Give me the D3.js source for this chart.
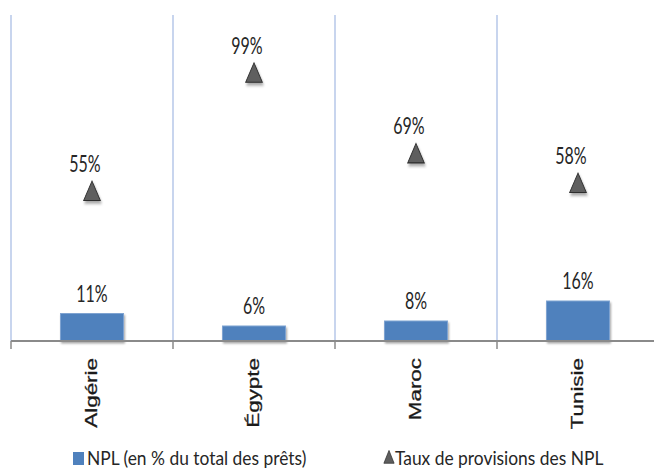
<!DOCTYPE html>
<html><head><meta charset="utf-8">
<script src="https://cdn.jsdelivr.net/npm/d3@7"></script>
<style>body{margin:0;background:#fff}svg{display:block}</style>
</head><body>
<svg id="c" width="654" height="469"></svg>
<script>
const categories = ["Algérie", "Égypte", "Maroc", "Tunisie"];
const nplValues = [11, 6, 8, 16];
const provisionValues = [55, 99, 69, 58];
const seriesNames = ["NPL (en % du total des prêts)", "Taux de provisions des NPL"];

const svg = d3.select("#c");
const baseY = 341;
const x = d3.scaleBand().domain(categories).range([11, 659]).paddingInner(0).paddingOuter(0);
const yBar = d3.scaleLinear().domain([0, 100]).range([baseY, 91]);
const yTri = d3.scaleLinear().domain([0, 100]).range([baseY, 72]);
const SY = 1.4;

const defs = svg.append("defs");
const f = defs.append("filter").attr("id", "sh").attr("x", "-30%").attr("y", "-30%").attr("width", "160%").attr("height", "160%");
f.append("feDropShadow").attr("dx", 1).attr("dy", 2).attr("stdDeviation", 1.2).attr("flood-color", "#000").attr("flood-opacity", 0.35);

// vertical gridlines at category boundaries
const bounds = categories.map(c => x(c));
svg.append("g").selectAll("line").data(bounds).join("line")
  .attr("x1", d => d).attr("x2", d => d).attr("y1", 15).attr("y2", baseY)
  .attr("stroke", "#c8d5ee").attr("stroke-width", 2);

// bars
const bw = 63;
svg.append("g").selectAll("rect").data(categories).join("rect")
  .attr("x", (d) => x(d) + x.bandwidth() / 2 - bw / 2)
  .attr("y", (d, i) => yBar(nplValues[i]))
  .attr("width", bw)
  .attr("height", (d, i) => baseY - yBar(nplValues[i]))
  .attr("fill", "#4f81bd").attr("stroke", "#7fa3d1").attr("stroke-width", 1)
  .attr("filter", "url(#sh)");

// axis
const axis = d3.axisBottom(x).tickSize(0).tickFormat("");
const ga = svg.append("g").attr("transform", `translate(0,${baseY})`).call(axis);
ga.select(".domain").remove();
ga.append("line").attr("x1", 11).attr("x2", 654).attr("y1", 0).attr("y2", 0).attr("stroke", "#8a8a8a").attr("stroke-width", 2);
ga.selectAll(".tk").data(bounds).join("line").attr("class", "tk")
  .attr("x1", d => d).attr("x2", d => d).attr("y1", 0).attr("y2", 8)
  .attr("stroke", "#8a8a8a").attr("stroke-width", 1.5);

// category labels (rotated)
svg.append("g").selectAll("text").data(categories).join("text")
  .attr("transform", d => `translate(${x(d) + x.bandwidth() / 2 + 5},358) rotate(-90) scale(${SY},1)`)
  .attr("text-anchor", "end")
  .style("font-family", "'Liberation Sans', Arial, sans-serif")
  .style("font-size", "16px").attr("fill", "#1a1a1a")
  .attr("stroke", "#1a1a1a").attr("stroke-width", 0.25)
  .text(d => d);

// bar labels
svg.append("g").selectAll("text").data(categories).join("text")
  .attr("transform", (d, i) => `translate(${x(d) + x.bandwidth() / 2},${yBar(nplValues[i]) - 12}) scale(1,${SY})`)
  .attr("text-anchor", "middle")
  .style("font-family", "Lato, sans-serif").style("font-size", "16px").attr("fill", "#262626")
  .text((d, i) => nplValues[i] + "%");

// triangles
const tri = d3.symbol().type(d3.symbolTriangle).size(120);
svg.append("g").selectAll("path").data(categories).join("path")
  .attr("d", tri)
  .attr("transform", (d, i) => `translate(${x(d) + x.bandwidth() / 2},${yTri(provisionValues[i]) + 1}) scale(1,1.35)`)
  .attr("fill", "#5e5e5e").attr("stroke", "#2e2e2e").attr("stroke-width", 0.8)
  .attr("filter", "url(#sh)");

svg.append("g").selectAll("text").data(categories).join("text")
  .attr("transform", (d, i) => `translate(${x(d) + x.bandwidth() / 2 - 7},${yTri(provisionValues[i]) - 21}) scale(1,${SY})`)
  .attr("text-anchor", "middle")
  .style("font-family", "Lato, sans-serif").style("font-size", "16px").attr("fill", "#262626")
  .text((d, i) => provisionValues[i] + "%");

// legend
const LSY = 1.13;
const lg = svg.append("g");
lg.append("rect").attr("x", 73).attr("y", 452).attr("width", 11).attr("height", 13).attr("fill", "#4f81bd");
lg.append("text").attr("transform", `translate(87,465) scale(1,${LSY})`)
  .style("font-family", "Lato, sans-serif").style("font-size", "17.4px").attr("fill", "#262626")
  .text(seriesNames[0]);
lg.append("path").attr("d", d3.symbol().type(d3.symbolTriangle).size(45))
  .attr("transform", "translate(389,459) scale(1,1.45)")
  .attr("fill", "#5e5e5e").attr("stroke", "#2e2e2e").attr("stroke-width", 0.6);
lg.append("text").attr("transform", `translate(395,465) scale(1,${LSY})`)
  .style("font-family", "Lato, sans-serif").style("font-size", "17.4px").attr("fill", "#262626")
  .text(seriesNames[1]);
</script>
</body></html>
